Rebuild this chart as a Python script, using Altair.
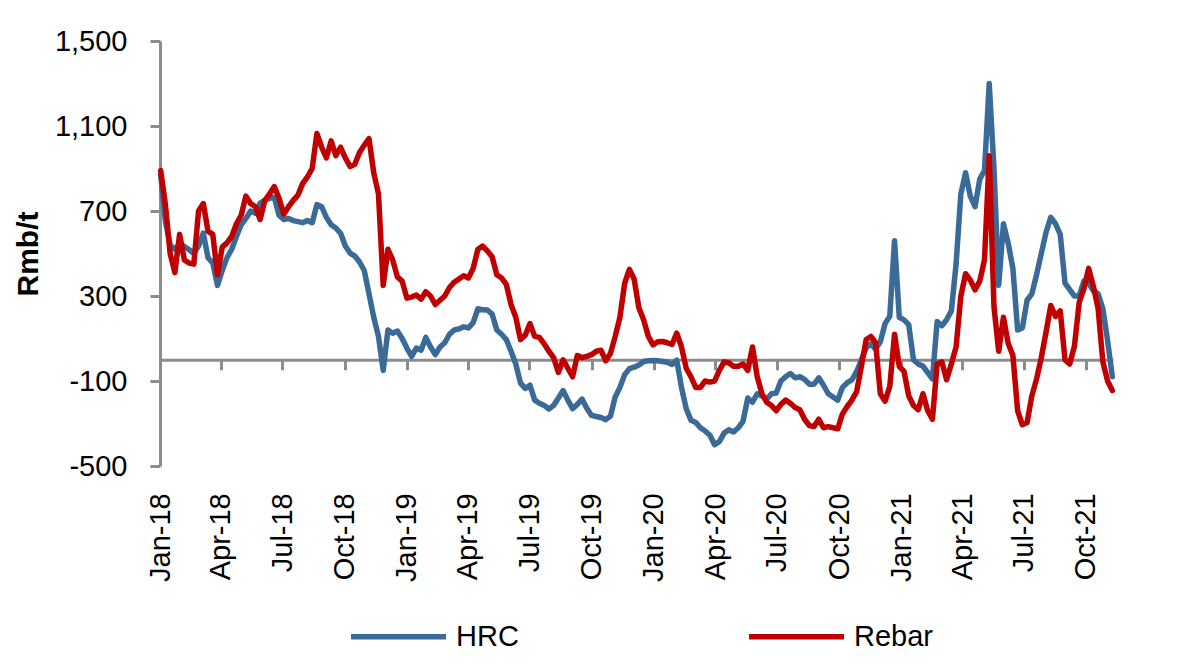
import altair as alt
import pandas as pd

# ---------------- data (weekly readings, Rmb/t) ----------------
start_date = "2018-01-02"

hrc = [870, 650, 540, 520, 545, 533, 518, 500, 535, 596, 480, 455, 350, 420, 480, 520,
       580, 635, 665, 700, 690, 737, 750, 760, 765, 680, 660, 665, 655, 650, 645, 655,
       645, 730, 720, 670, 635, 620, 595, 535, 502, 488, 460, 420, 310, 200, 110, -50,
       140, 125, 135, 100, 55, 16, 55, 45, 105, 60, 24, 60, 80, 120, 140, 145, 155, 150,
       175, 240, 235, 234, 215, 140,
       120, 95, 40, -20, -110, -135, -120, -190, -205, -215, -232, -215, -180, -145,
       -190, -230, -210, -185, -228, -262, -267, -272, -282, -265, -175, -130, -70, -42,
       -35, -25, -8, -5, -3, -5, -8, -12, -22, -2, -130, -230, -285, -295, -320, -335,
       -355, -400, -385, -345, -330, -340, -320, -290, -180, -200, -160, -170, -185,
       -160, -157, -100, -80, -65, -85, -80, -92, -115, -115,
       -85, -120, -160, -175, -190, -130, -108, -95, -55, 0, 55, 75, 50, 85, 170, 205,
       560, 200, 188, 165, 0, -20, -30, -60, -90, 180, 160, 188, 230, 450, 780, 880,
       770, 720, 850, 890, 1300, 900, 350, 640, 549, 430, 140, 150, 280, 310, 400, 500,
       600, 670, 640, 590, 361, 330, 300, 300, 370, 360, 325, 310, 240, 90, -80]

rebar = [890, 730, 500, 410, 590, 470, 455, 450, 700, 735, 605, 590, 400, 530, 550, 580,
         640, 680, 770, 735, 720, 660, 750, 780, 815, 760, 685, 720, 750, 775, 830, 860,
         900, 1065, 1000, 950, 1030, 960, 1000, 950, 910, 920, 975, 1010, 1040, 880, 780,
         350, 520, 470, 390, 370, 290, 295, 305, 285, 320, 300, 260, 280, 300, 340, 365,
         380, 395, 385, 430, 520, 535, 512, 485, 400,
         385, 355, 260, 200, 95, 115, 170, 110, 105, 75, 40, 10, -60, 0, -40, -80, 20, 10,
         16, 24, 40, 45, -5, 30, 110, 200, 360, 425, 380, 245, 188, 110, 70, 85, 86, 80,
         72, 125, 60, -40, -80, -130, -130, -100, -105, -100, -50, -10, -14, -31, -31,
         -20, -50, 60, -80, -160, -200, -215, -240, -210, -190, -205, -225, -235, -280,
         -310, -314,
         -280, -320, -315, -320, -325, -255, -220, -190, -150, -31, 94, 110, 80, -160,
         -195, -125, 120, -31, -55, -170, -215, -235, -160, -240, -280, -20, -10, -94,
         -20, 60, 298, 405, 375, 329, 370, 470, 960, 250, 40, 200, 78, 20, -240, -306,
         -295, -170, -90, 10, 130, 255, 204, 230, 0, -20, 65, 270, 335, 430, 345, 240,
         -10, -100, -145]

series_names = ["HRC", "Rebar"]
series_colors = ["#3A6A98", "#C00000"]
y_ticks = [-500, -100, 300, 700, 1100, 1500]
x_tick_years = [2018, 2019, 2020, 2021]
x_tick_months = [1, 4, 7, 10]

dates = pd.date_range(start_date, periods=len(hrc), freq="7D").strftime("%Y-%m-%d")
df = pd.DataFrame({"date": dates, "HRC": hrc, "Rebar": rebar}).melt(
    "date", var_name="series", value_name="value")

FONT = "Liberation Sans"
AXIS_GRAY = "#8C8C8C"

x_vals = [alt.DateTime(year=y, month=m, date=1, utc=True)
          for y in x_tick_years for m in x_tick_months]

chart = alt.Chart(df).mark_line(strokeWidth=5.5, strokeJoin="round", strokeCap="round").encode(
    x=alt.X(
        "date:T",
        scale=alt.Scale(type="utc", domain=[alt.DateTime(year=2018, month=1, date=1, utc=True),
                                            alt.DateTime(year=2021, month=11, date=10, utc=True)]),
        axis=alt.Axis(values=x_vals, format="%b-%y", labelAngle=270, offset=-106.25,
                      tickSize=10, tickWidth=3, tickColor=AXIS_GRAY, domainColor=AXIS_GRAY,
                      domainWidth=3, labelPadding=123, labelFont=FONT, labelFontSize=29,
                      labelColor="black", labelFlush=False, labelOverlap=False,
                      title=None, grid=False, zindex=0),
    ),
    y=alt.Y(
        "value:Q",
        scale=alt.Scale(domain=[-500, 1500], nice=False, zero=False),
        axis=alt.Axis(values=y_ticks, format=",.0f",
                      labelExpr="replace(datum.label, '\u2212', '-')",
                      tickSize=10, tickWidth=3,
                      tickColor=AXIS_GRAY, domainColor=AXIS_GRAY, domainWidth=3,
                      labelPadding=23, labelFont=FONT, labelFontSize=29, labelColor="black",
                      grid=False, title="Rmb/t", titleFont=FONT, titleFontSize=30,
                      titleFontWeight="bold", titleColor="black", titleAngle=270,
                      titleX=-132, titleY=212.5, titleAlign="center",
                      titleBaseline="middle", zindex=0),
    ),
    color=alt.Color(
        "series:N",
        scale=alt.Scale(domain=series_names, range=series_colors),
        legend=alt.Legend(title=None, orient="none", legendX=188, legendY=545,
                          direction="horizontal", symbolType="stroke", symbolSize=9025,
                          symbolStrokeWidth=5.5, labelFont=FONT, labelFontSize=29,
                          labelColor="black", labelOffset=7, columnPadding=219, padding=0),
    ),
).properties(
    width=953,
    height=425,
    autosize=alt.AutoSizeParams(type="none"),
    padding={"left": 152, "top": 33, "right": 60, "bottom": 200},
).configure_view(stroke=None)

chart.save("out.html", embed_options={"renderer": "svg", "actions": False})
